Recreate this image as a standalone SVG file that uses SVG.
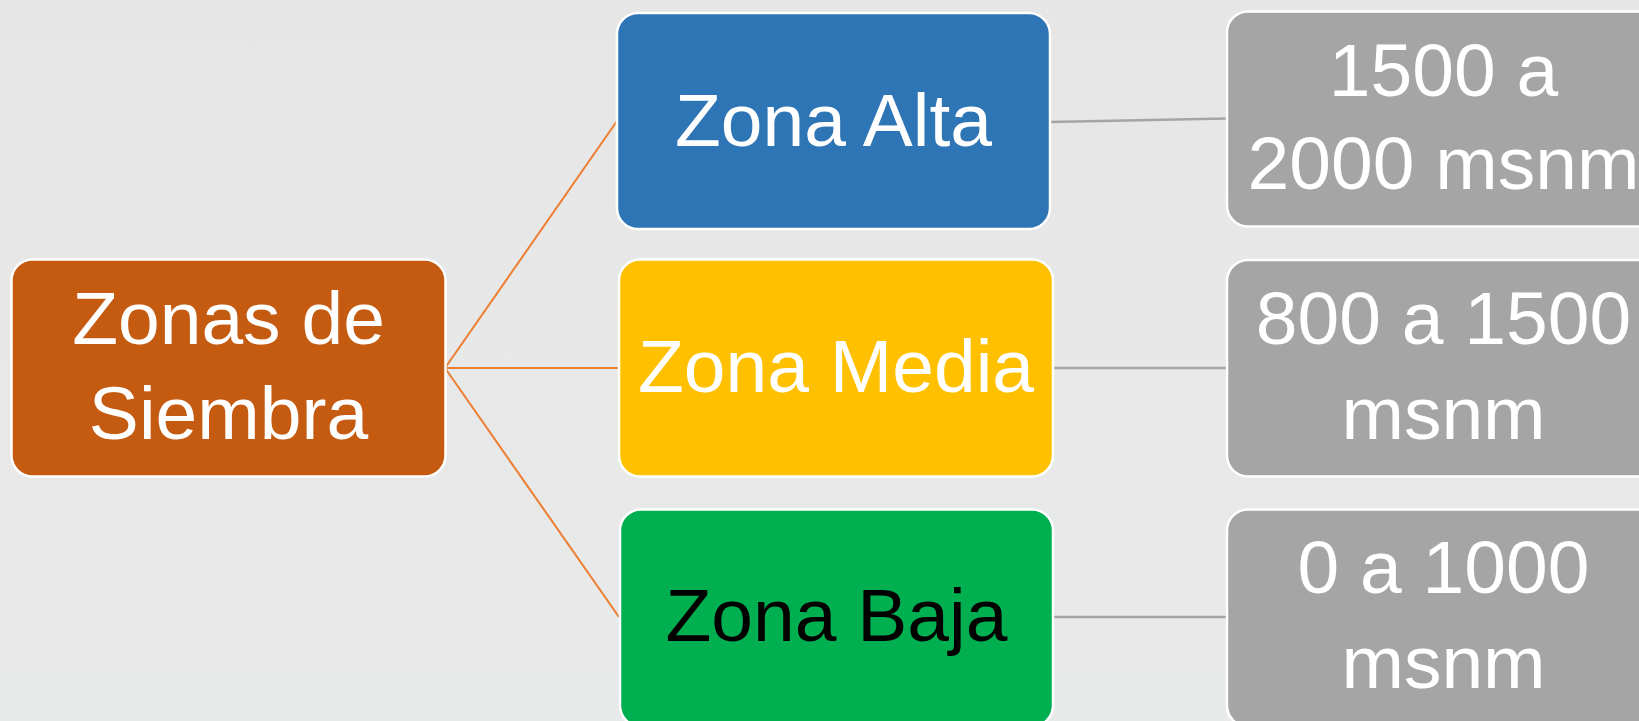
<svg xmlns="http://www.w3.org/2000/svg" width="1639" height="721" viewBox="0 0 1639 721">
<defs>
<linearGradient id="bg" x1="0" y1="0" x2="0" y2="1">
<stop offset="0" stop-color="#e6e6e6"/>
<stop offset="1" stop-color="#e8eae9"/>
</linearGradient>
<style>
.box{stroke:#ffffff;stroke-width:2.5}
.t{font-family:"Liberation Sans",Arial,sans-serif;font-size:75px;fill:#ffffff;text-anchor:middle}
.oc{stroke:#ed7d31;stroke-width:2;fill:none}
.gc{stroke:#a5a5a5;stroke-width:2.5;fill:none}
</style>
</defs>
<rect x="0" y="0" width="1639" height="721" fill="url(#bg)"/>
<g id="connectors">
<line class="oc" x1="445" y1="368" x2="617" y2="121"/>
<line class="oc" x1="445" y1="368" x2="619" y2="368"/>
<line class="oc" x1="445" y1="368" x2="619" y2="617"/>
<line class="gc" x1="1050" y1="122" x2="1227" y2="118.5"/>
<line class="gc" x1="1053" y1="368" x2="1227" y2="368"/>
<line class="gc" x1="1053" y1="617" x2="1227" y2="617"/>
</g>
<g id="root">
<rect class="box" x="11.5" y="259.5" width="434" height="217" rx="21" fill="#c55a11"/>
<text class="t" x="228.5" y="344">Zonas de</text>
<text class="t" x="228.5" y="439">Siembra</text>
</g>
<g id="alta">
<rect class="box" x="617" y="13" width="433" height="216" rx="21" fill="#2e75b6"/>
<text class="t" x="833.5" y="146">Zona Alta</text>
</g>
<g id="media">
<rect class="box" x="619" y="259.5" width="434" height="217" rx="21" fill="#ffc000"/>
<text class="t" x="836" y="392">Zona Media</text>
</g>
<g id="baja">
<rect class="box" x="620" y="509.5" width="433" height="217" rx="21" fill="#00b050"/>
<text class="t" x="836.5" y="641" fill="#000000" style="fill:#000000">Zona Baja</text>
</g>
<g id="alta-range">
<rect class="box" x="1227" y="11.5" width="433" height="215" rx="21" fill="#a5a5a5"/>
<text class="t" x="1443.5" y="95.5">1500 a</text>
<text class="t" x="1443.5" y="188.5">2000 msnm</text>
</g>
<g id="media-range">
<rect class="box" x="1227" y="260" width="433" height="216.5" rx="21" fill="#a5a5a5"/>
<text class="t" x="1443.5" y="344">800 a 1500</text>
<text class="t" x="1443.5" y="439">msnm</text>
</g>
<g id="baja-range">
<rect class="box" x="1227" y="509.5" width="433" height="217" rx="21" fill="#a5a5a5"/>
<text class="t" x="1443.5" y="593">0 a 1000</text>
<text class="t" x="1443.5" y="687.5">msnm</text>
</g>
</svg>
